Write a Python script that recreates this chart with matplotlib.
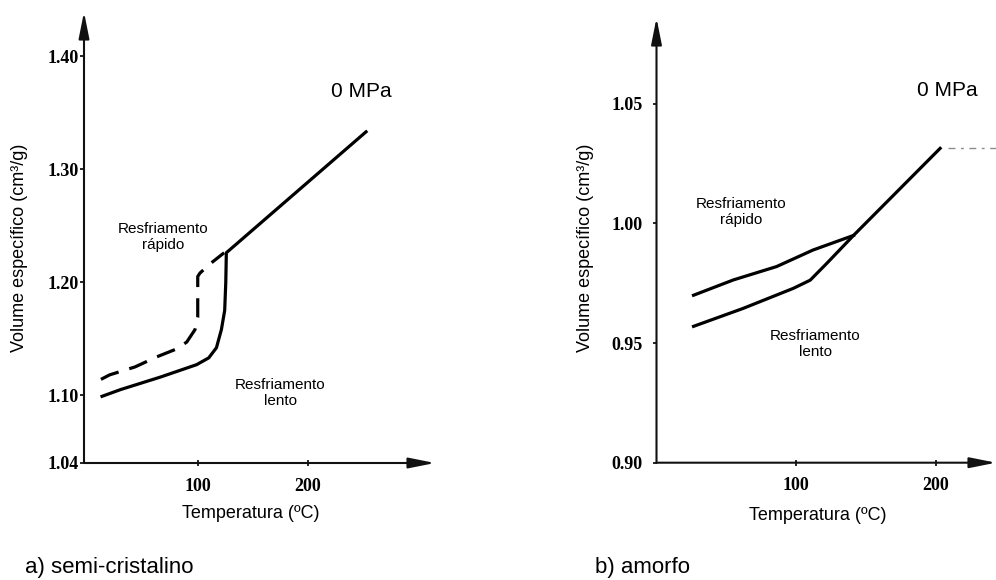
import matplotlib
matplotlib.use("Agg")
import matplotlib.pyplot as plt

plt.rcParams["font.family"] = ["Liberation Sans", "DejaVu Sans"]

# semi-crystalline polymer, specific volume vs temperature
semi_slow_T = [13, 30, 66, 99, 110, 117, 121.5, 124.5, 125.5, 126, 253]
semi_slow_V = [1.099, 1.105, 1.116, 1.127, 1.133, 1.142, 1.158, 1.175, 1.200, 1.226, 1.333]
semi_fast_T = [12, 20, 43, 63, 81, 90, 97.5, 100, 100, 102, 111, 124]
semi_fast_V = [1.114, 1.118, 1.125, 1.134, 1.141, 1.147, 1.158, 1.169, 1.205, 1.208, 1.216, 1.226]
semi_yticks = [1.04, 1.10, 1.20, 1.30, 1.40]

# amorphous polymer
amo_fast_T = [26.5, 55, 86, 112, 141]
amo_fast_V = [0.970, 0.9764, 0.982, 0.9889, 0.995]
amo_slow_T = [26.5, 62, 98, 110, 122, 141, 203]
amo_slow_V = [0.957, 0.9645, 0.9729, 0.9763, 0.9834, 0.995, 1.0314]
amo_yticks = [0.90, 0.95, 1.00, 1.05]

xticks = [100, 200]

W, H = 996, 580
fig = plt.figure(figsize=(W / 100, H / 100), dpi=100)


def px_axes(x0, x1, ytop, ybot):
    return fig.add_axes([x0 / W, 1 - ybot / H, (x1 - x0) / W, (ybot - ytop) / H])


def style_axes(ax, yticks, ypad):
    for s in ax.spines.values():
        s.set_visible(False)
    ax.patch.set_alpha(0)
    arrow = dict(arrowstyle="-|>,head_length=1.6,head_width=0.32", color="#111111",
                 lw=1.5, shrinkA=0, shrinkB=0, mutation_scale=10)
    ax.annotate("", xy=(0, 1), xytext=(0, 0), xycoords="axes fraction",
                arrowprops=arrow, annotation_clip=False)
    ax.annotate("", xy=(1, 0), xytext=(0, 0), xycoords="axes fraction",
                arrowprops=arrow, annotation_clip=False)
    ax.set_xticks(xticks)
    ax.set_xticklabels([str(t) for t in xticks])
    ax.set_yticks(yticks)
    ax.set_yticklabels([f"{v:.2f}" for v in yticks])
    ax.tick_params(axis="x", direction="inout", length=5, width=1.2, pad=8)
    ax.tick_params(axis="y", direction="out", length=3, width=1.2, pad=ypad)
    for lab in ax.get_xticklabels() + ax.get_yticklabels():
        lab.set_fontfamily("Liberation Serif")
        lab.set_fontweight("bold")
        lab.set_fontsize(13)


# a) semi-cristalino
ax1 = px_axes(84, 435, 12, 463)
ax1.set_xlim(-3.4, 315.7)
ax1.set_ylim(1.04, 1.439)
style_axes(ax1, semi_yticks, 1)
ax1.plot(semi_slow_T, semi_slow_V, color="black", lw=2.3, solid_joinstyle="round")
ax1.plot(semi_fast_T, semi_fast_V, color="black", lw=2.3, dashes=(6, 3.5))
ax1.text(249, 1.369, "0 MPa", fontsize=15, ha="center", va="center")
ax1.text(68.5, 1.240, "Resfriamento\nrápido", fontsize=11, ha="center", va="center",
         linespacing=1.2)
ax1.text(175, 1.102, "Resfriamento\nlento", fontsize=11, ha="center", va="center",
         linespacing=1.2)

# b) amorfo
ax2 = px_axes(656.5, 996, 18, 462.7)
ax2.set_xlim(0, 243)
ax2.set_ylim(0.90, 1.0859)
style_axes(ax2, amo_yticks, 7)
ax2.plot(amo_slow_T, amo_slow_V, color="black", lw=2.3, solid_joinstyle="round")
ax2.plot(amo_fast_T, amo_fast_V, color="black", lw=2.3, solid_joinstyle="round")
ax2.plot([amo_slow_T[-1] + 6, ax2.get_xlim()[1]], [amo_slow_V[-1]] * 2,
         color="#8c8c8c", lw=1, dashes=(5, 4, 2, 4))
ax2.text(207.9, 1.0555, "0 MPa", fontsize=15, ha="center", va="center")
ax2.text(60.6, 1.0048, "Resfriamento\nrápido", fontsize=11, ha="center", va="center",
         linespacing=1.2)
ax2.text(113.5, 0.9496, "Resfriamento\nlento", fontsize=11, ha="center", va="center",
         linespacing=1.2)

# axis titles and captions
for x in (20, 585):
    fig.text(x / W, 1 - 248 / H, "Volume específico (cm³/g)", rotation=90,
             fontsize=13, ha="center", va="center")
fig.text(251 / W, 1 - 513 / H, "Temperatura (ºC)", fontsize=13, ha="center", va="center")
fig.text(818 / W, 1 - 515 / H, "Temperatura (ºC)", fontsize=13, ha="center", va="center")
fig.text(25 / W, 1 - 567 / H, "a) semi-cristalino", fontsize=16, ha="left", va="center")
fig.text(595 / W, 1 - 567 / H, "b) amorfo", fontsize=16, ha="left", va="center")

fig.savefig("out.png", dpi=100)
